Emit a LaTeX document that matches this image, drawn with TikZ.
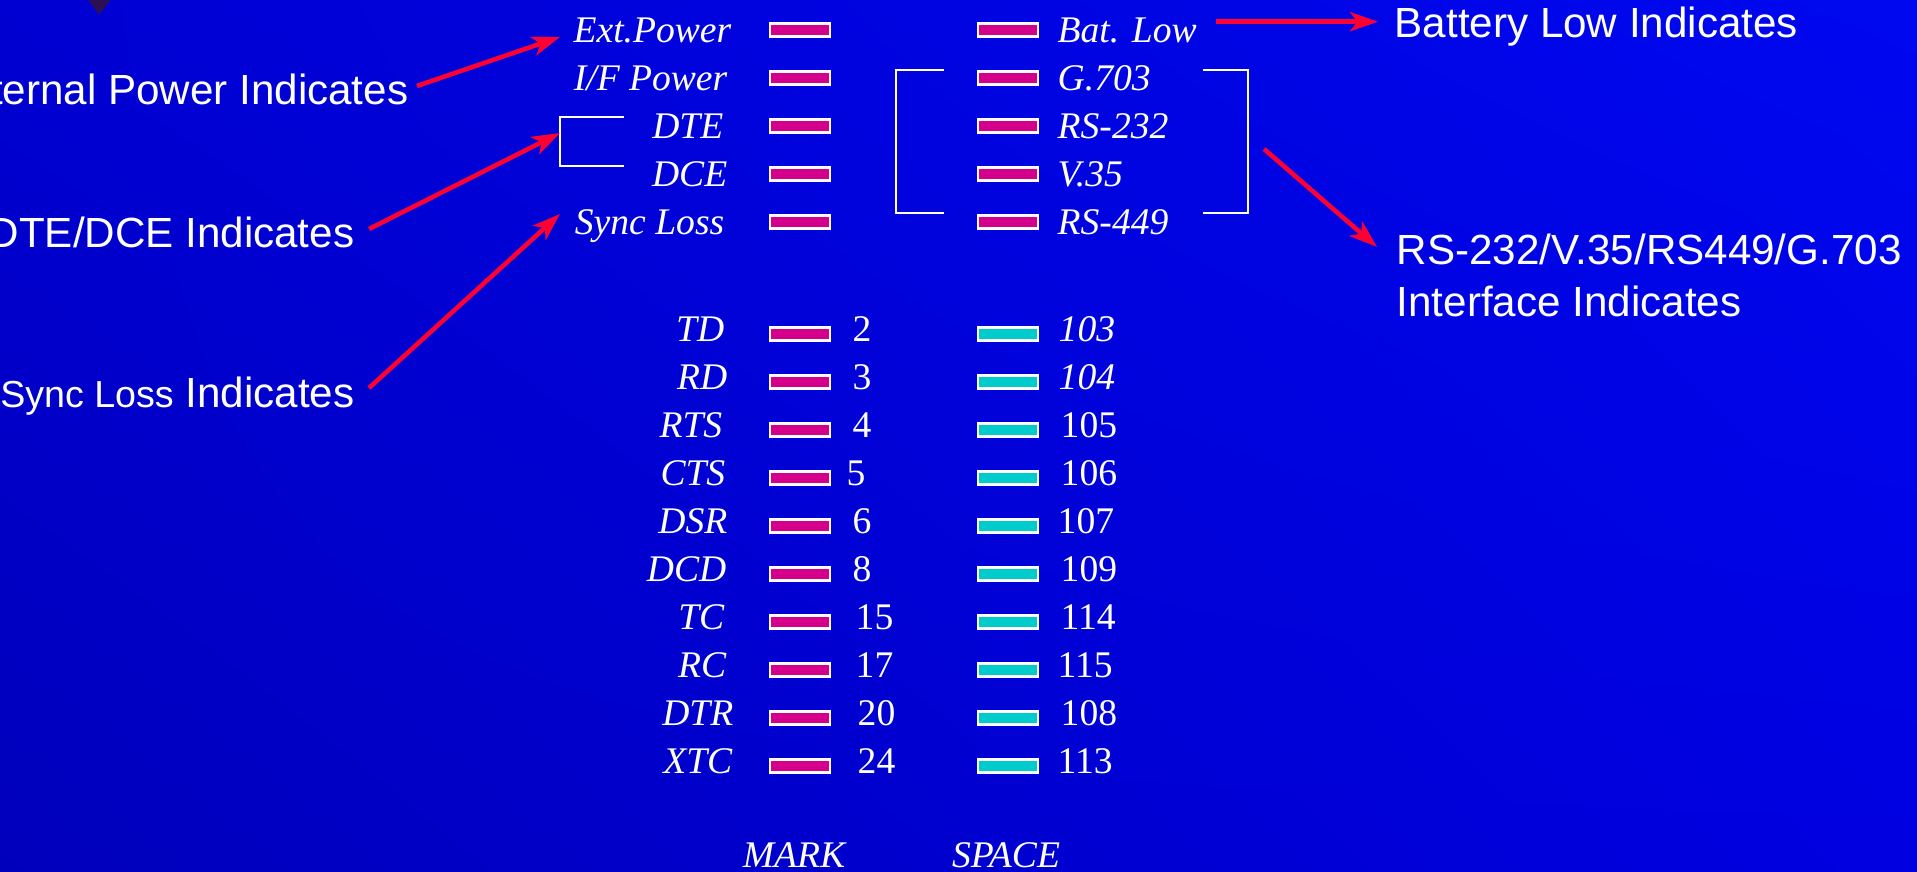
\documentclass[tikz,border=0pt]{standalone}
\usepackage{fontspec}
\setmainfont{Liberation Serif}
\setsansfont{Liberation Sans}
\usetikzlibrary{arrows.meta,shadings}
\definecolor{ledmag}{RGB}{212,0,140}
\definecolor{ledcyan}{RGB}{0,204,204}
\definecolor{arrred}{RGB}{255,0,50}
\definecolor{tridark}{RGB}{45,15,85}
\definecolor{bgul}{RGB}{0,0,210}
\definecolor{bgur}{RGB}{0,8,240}
\definecolor{bgll}{RGB}{0,0,188}
\definecolor{bglr}{RGB}{0,0,225}
\begin{document}
\begin{tikzpicture}[x=0.1mm,y=-0.1mm,
  ledm/.style={draw=white, line width=0.6pt, fill=ledmag, minimum width=6.0mm, minimum height=1.3mm, inner sep=0pt},
  ledc/.style={ledm, fill=ledcyan},
  lbl/.style={font=\fontsize{10.7}{12}\selectfont\itshape, text=white, inner sep=0pt},
  num/.style={font=\fontsize{10.7}{12}\selectfont, text=white, inner sep=0pt},
  sans/.style={font=\sffamily\fontsize{12}{14}\selectfont, text=white, inner sep=0pt},
  redarrow/.style={draw=arrred, line width=1.3pt, -{Stealth[length=8pt,width=5.5pt,inset=2.2pt]}},
  bracketline/.style={draw=white, line width=0.6pt}]
\path[use as bounding box, clip] (0,0) rectangle (1917,872);
\shade[upper left=bgul, upper right=bgur, lower left=bgll, lower right=bglr] (0,0) rectangle (1917,872);
% triangle
\fill[tridark] (87,-2) -- (112,-2) -- (99,15) -- cycle;

% ---- top block ----
\foreach \n/\y in {a/30,b/78,c/126,d/174,e/222}{
  \node[ledm] (L\n) at (800,\y) {};
  \node[ledm] (R\n) at (1008,\y) {};
}
\node[lbl, anchor=base east] (text) at (732,43) {Ext.Power};
\node[lbl, anchor=base east] (tif) at (728,91) {I/F Power};
\node[lbl, anchor=base east] (tdte) at (724,139) {DTE};
\node[lbl, anchor=base east] (tdce) at (728,187) {DCE};
\node[lbl, anchor=base east] (tsync) at (725,235) {Sync Loss};
\node[lbl, anchor=base west] (tbat) at (1057,43) {Bat. Low};
\node[lbl, anchor=base west] (tg) at (1057,91) {G.703};
\node[lbl, anchor=base west] (t232) at (1057,139) {RS-232};
\node[lbl, anchor=base west] (tv35) at (1057,187) {V.35};
\node[lbl, anchor=base west] (t449) at (1057,235) {RS-449};

% brackets
\draw[bracketline] (624,117) -- (560,117) -- (560,166) -- (624,166);
\draw[bracketline] (944,70) -- (896,70) -- (896,213) -- (944,213);
\draw[bracketline] (1203,70) -- (1248,70) -- (1248,213) -- (1203,213);

% ---- lower block ----
\foreach \n/\y/\lab/\lx/\mn/\mx/\sn/\sx in {
  1/334/TD/725/2/852/\textit{103}/1058,
  2/382/RD/728/3/852/\textit{104}/1058,
  3/430/RTS/723/4/852/105/1060,
  4/478/CTS/726/5/846/106/1060,
  5/526/DSR/728/6/852/107/1057,
  6/574/DCD/727/8/852/109/1060,
  7/622/TC/725/15/855/114/1060,
  8/670/RC/727/17/855/115/1057,
  9/718/DTR/734/20/857/108/1060,
  10/766/XTC/733/24/857/113/1057}{
  \node[ledm] (M\n) at (800,\y) {};
  \node[ledc] (S\n) at (1008,\y) {};
  \node[lbl, anchor=base east] (sig\n) at (\lx,\y+7.7) {\lab};
  \node[num, anchor=base west] (pm\n) at (\mx,\y+7.7) {\mn};
  \node[num, anchor=base west] (ps\n) at (\sx,\y+7.7) {\sn};
}
\node[lbl, anchor=base] (mark) at (794,868) {MARK};
\node[lbl, anchor=base] (space) at (1006,868) {SPACE};

% ---- explanation texts ----
\node[sans, anchor=base east] (cext) at (409,105) {External Power Indicates};
\node[sans, anchor=base east] (cdte) at (355,248) {DTE/DCE Indicates};
\node[sans, anchor=base east] (csync) at (355,408) {{\fontsize{10.7}{12}\selectfont Sync Loss} Indicates};
\node[sans, anchor=base west] (cbat) at (1394,38) {Battery Low Indicates};
\node[sans, anchor=base west, align=left] (cif) at (1396,265) {RS-232/V.35/RS449/G.703};
\node[sans, anchor=base west] (cif2) at (1396,317) {Interface Indicates};

% ---- arrows ----
\coordinate (aext0) at (417,86);   \coordinate (aext1) at (560,37);
\coordinate (adte0) at (369,229);  \coordinate (adte1) at (560,133);
\coordinate (async0) at (369,388); \coordinate (async1) at (560,214);
\coordinate (abat0) at (1216,21.7); \coordinate (abat1) at (1378,21.7);
\coordinate (aif0) at (1264,149);  \coordinate (aif1) at (1377,247);
\draw[redarrow] (aext0) -- (aext1);
\draw[redarrow] (adte0) -- (adte1);
\draw[redarrow] (async0) -- (async1);
\draw[redarrow] (abat0) -- (abat1);
\draw[redarrow] (aif0) -- (aif1);
\end{tikzpicture}
\end{document}
